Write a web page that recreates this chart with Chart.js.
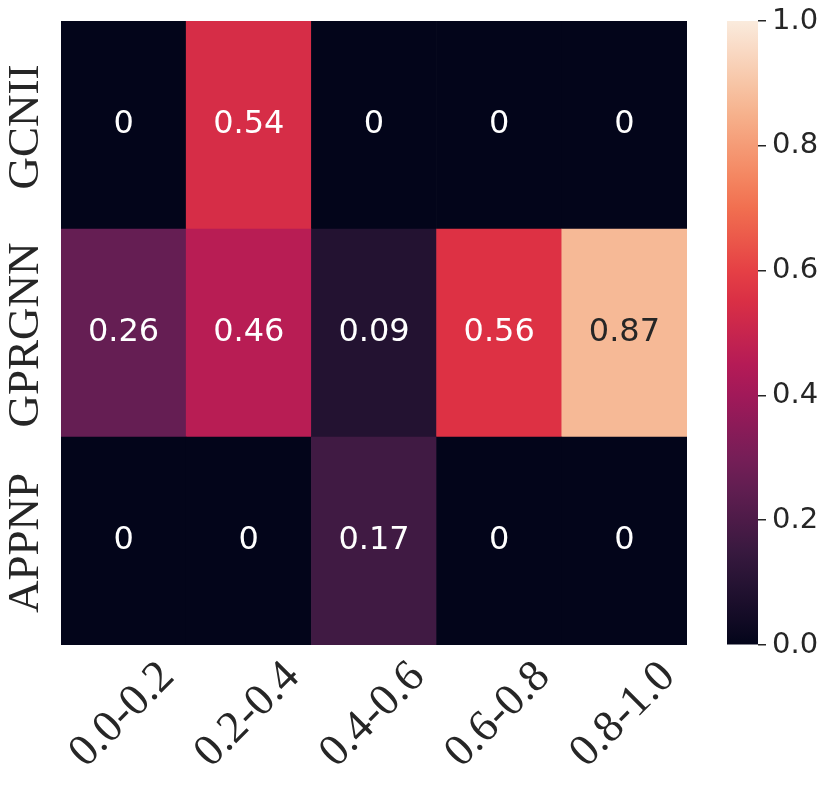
<!DOCTYPE html>
<html>
<head>
<meta charset="utf-8">
<script src="https://cdn.jsdelivr.net/npm/chart.js@4.4.1/dist/chart.umd.min.js"></script>
<style>
    body { margin: 0; background: #ffffff; }
    #wrap { position: relative; width: 830px; height: 793px; }
    #heat { position: absolute; left: 0; top: 0; }
    #cbar { position: absolute; left: 700px; top: 0; }
</style>
</head>
<body>
<div id="wrap">
    <canvas id="heat" width="830" height="793"></canvas>
    <canvas id="cbar" width="130" height="793"></canvas>
</div>
<script>
var columns = ['0.0-0.2', '0.2-0.4', '0.4-0.6', '0.6-0.8', '0.8-1.0'];
var rows = ['GCNII', 'GPRGNN', 'APPNP'];   // top to bottom
var gcnii = [0, 0.54, 0, 0, 0];
var gprgnn = [0.26, 0.46, 0.09, 0.56, 0.87];
var appnp = [0, 0, 0.17, 0, 0];
var cbarTicks = [0, 0.2, 0.4, 0.6, 0.8, 1.0];

// rocket colormap stops
var rocketStops = [
    [0.0, [3, 5, 26]],
    [1 / 7, [53, 25, 62]],
    [2 / 7, [112, 31, 87]],
    [3 / 7, [173, 23, 89]],
    [4 / 7, [225, 51, 66]],
    [5 / 7, [243, 118, 81]],
    [6 / 7, [246, 180, 143]],
    [1.0, [250, 235, 221]]
];

function rocket(v) {
    v = Math.max(0, Math.min(1, v));
    for (var i = 1; i < rocketStops.length; i++) {
        if (v <= rocketStops[i][0]) {
            var a = rocketStops[i - 1], b = rocketStops[i];
            var t = (v - a[0]) / (b[0] - a[0]);
            var c = a[1].map(function (x, k) { return Math.round(x + (b[1][k] - x) * t); });
            return 'rgb(' + c.join(',') + ')';
        }
    }
    return 'rgb(250,235,221)';
}

var textColor = '#262626';

// stacked from bottom: APPNP, GPRGNN, GCNII
var rowValues = [appnp, gprgnn, gcnii];
var rowNames = [rows[2], rows[1], rows[0]];

var datasets = rowValues.map(function (vals, i) {
    return {
        label: rowNames[i],
        data: vals.map(function () { return 1; }),
        values: vals,
        backgroundColor: vals.map(rocket),
        borderWidth: 0,
        barPercentage: 1,
        categoryPercentage: 1
    };
});

// write the value in each cell
var cellText = {
    id: 'cellText',
    afterDatasetsDraw: function (chart) {
        var ctx = chart.ctx;
        ctx.save();
        ctx.font = '32px "DejaVu Sans"';
        ctx.textAlign = 'center';
        ctx.textBaseline = 'middle';
        chart.data.datasets.forEach(function (ds, di) {
            var meta = chart.getDatasetMeta(di);
            meta.data.forEach(function (bar, j) {
                var v = ds.values[j];
                ctx.fillStyle = v > 0.7 ? textColor : '#ffffff';
                ctx.fillText(String(v), bar.x, (bar.y + bar.base) / 2);
            });
        });
        ctx.restore();
    }
};

// vertical row names on the left
var rowLabels = {
    id: 'rowLabels',
    afterDraw: function (chart) {
        var ctx = chart.ctx;
        var ys = chart.scales.y;
        ctx.save();
        ctx.font = '45px "Liberation Serif"';
        ctx.fillStyle = textColor;
        ctx.textAlign = 'center';
        ctx.textBaseline = 'middle';
        rowNames.forEach(function (name, i) {
            ctx.save();
            ctx.translate(26, ys.getPixelForValue(i + 0.5) + 2);
            ctx.rotate(-Math.PI / 2);
            ctx.fillText(name, 0, 0);
            ctx.restore();
        });
        ctx.restore();
    }
};

new Chart(document.getElementById('heat').getContext('2d'), {
    type: 'bar',
    data: { labels: columns, datasets: datasets },
    options: {
        responsive: false,
        animation: false,
        layout: { padding: { top: 21, right: 143, left: 0, bottom: 0 } },
        scales: {
            x: {
                stacked: true,
                grid: { display: false },
                border: { display: false },
                ticks: {
                    color: textColor,
                    font: { family: 'Liberation Serif', size: 45 },
                    minRotation: 45,
                    maxRotation: 45,
                    labelOffset: 44,
                    padding: -2
                },
                afterFit: function (s) {
                    s.height = 148;
                    s.paddingLeft = 0;
                    s.paddingRight = 0;
                }
            },
            y: {
                stacked: true,
                min: 0,
                max: 3,
                grid: { display: false },
                border: { display: false },
                ticks: { display: false },
                afterFit: function (s) { s.width = 61; }
            }
        },
        plugins: {
            legend: { display: false },
            tooltip: { enabled: false }
        }
    },
    plugins: [cellText, rowLabels]
});

// colour bar
new Chart(document.getElementById('cbar').getContext('2d'), {
    type: 'bar',
    data: {
        labels: [''],
        datasets: [{
            data: [[0, 1]],
            borderWidth: 0,
            barPercentage: 1,
            categoryPercentage: 1,
            backgroundColor: function (c) {
                var area = c.chart.chartArea;
                if (!area) return rocket(0.5);
                var g = c.chart.ctx.createLinearGradient(0, area.bottom, 0, area.top);
                for (var i = 0; i <= 20; i++) {
                    g.addColorStop(i / 20, rocket(i / 20));
                }
                return g;
            }
        }]
    },
    options: {
        responsive: false,
        animation: false,
        layout: { padding: { top: 21, left: 27, right: 0, bottom: 148 } },
        scales: {
            x: { display: false },
            y: {
                position: 'right',
                min: 0,
                max: 1,
                afterBuildTicks: function (s) {
                    s.ticks = cbarTicks.map(function (v) { return { value: v }; });
                },
                grid: {
                    drawOnChartArea: false,
                    drawTicks: true,
                    tickLength: 8,
                    tickColor: textColor,
                    lineWidth: 1.5
                },
                border: { display: false },
                ticks: {
                    color: textColor,
                    font: { family: 'DejaVu Sans', size: 29 },
                    padding: 6,
                    callback: function (v) { return v.toFixed(1); }
                },
                afterFit: function (s) {
                    s.width = 72;
                    s.paddingTop = 0;
                    s.paddingBottom = 0;
                }
            }
        },
        plugins: {
            legend: { display: false },
            tooltip: { enabled: false }
        }
    }
});
</script>
</body>
</html>
